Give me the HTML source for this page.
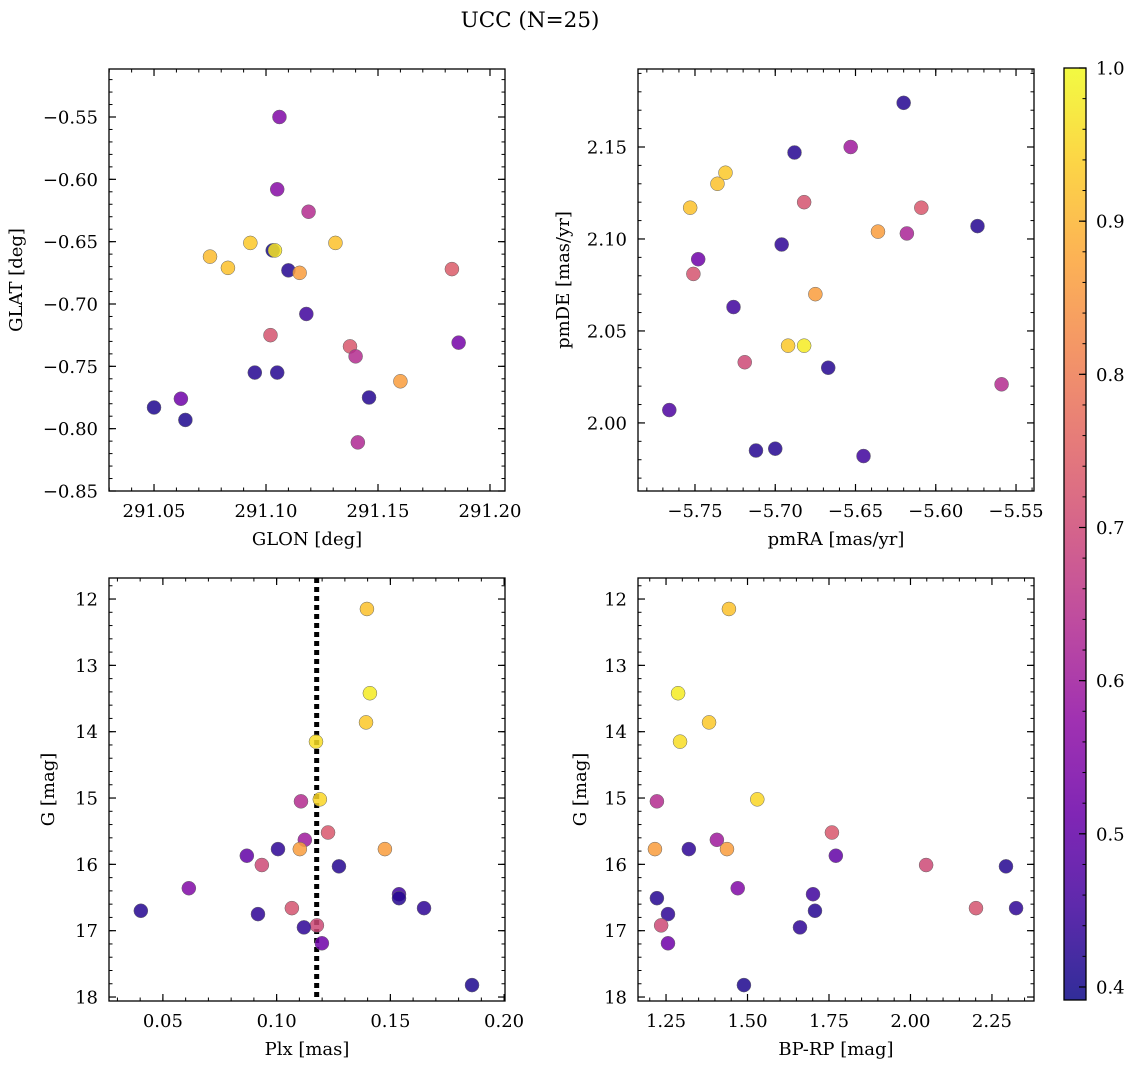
<!DOCTYPE html>
<html><head><meta charset="utf-8">
<style>
html,body{margin:0;padding:0;background:#fff;}
svg{display:block;font-family:"DejaVu Serif","Liberation Serif",serif;}
</style></head>
<body>
<svg id="fig" width="1136" height="1068" viewBox="0 0 1136 1068" xmlns="http://www.w3.org/2000/svg">
<text x="530" y="27" font-size="21.5" text-anchor="middle">UCC (N=25)</text>
</svg>
<script>
// ---- Panel 1: GLON vs GLAT ----
const p1x=[291.106,291.105,291.119,291.093,291.103,291.104,291.131,291.075,291.083,291.110,291.115,291.183,291.118,291.102,291.1375,291.140,291.186,291.095,291.105,291.160,291.146,291.050,291.062,291.064,291.141];
const p1y=[-0.550,-0.608,-0.626,-0.651,-0.657,-0.657,-0.651,-0.662,-0.671,-0.673,-0.675,-0.672,-0.708,-0.725,-0.734,-0.742,-0.731,-0.755,-0.755,-0.762,-0.775,-0.783,-0.776,-0.793,-0.811];
const p1c=[0.55,0.56,0.64,0.93,0.40,0.97,0.92,0.91,0.92,0.42,0.86,0.74,0.45,0.72,0.73,0.64,0.53,0.42,0.42,0.86,0.42,0.41,0.52,0.41,0.63];
// ---- Panel 2: pmRA vs pmDE ----
const p2x=[-5.620,-5.688,-5.653,-5.731,-5.736,-5.753,-5.682,-5.609,-5.636,-5.618,-5.574,-5.696,-5.748,-5.751,-5.675,-5.726,-5.719,-5.692,-5.682,-5.667,-5.559,-5.766,-5.712,-5.700,-5.645];
const p2y=[2.174,2.147,2.150,2.136,2.130,2.117,2.120,2.117,2.104,2.103,2.107,2.097,2.089,2.081,2.070,2.063,2.033,2.042,2.042,2.030,2.021,2.007,1.985,1.986,1.982];
const p2c=[0.42,0.42,0.60,0.93,0.92,0.92,0.72,0.73,0.86,0.62,0.42,0.43,0.52,0.72,0.86,0.45,0.70,0.93,0.98,0.42,0.64,0.47,0.42,0.42,0.45];
// ---- Panel 3: Plx vs G ----
const p3x=[0.1397,0.1410,0.1393,0.1173,0.1190,0.1107,0.1226,0.1124,0.1006,0.1102,0.1476,0.0869,0.0935,0.1274,0.0614,0.1538,0.1538,0.0403,0.1648,0.1067,0.0918,0.1177,0.1120,0.1199,0.1859];
const p3y=[12.15,13.42,13.86,14.15,15.02,15.05,15.52,15.63,15.77,15.77,15.77,15.87,16.01,16.03,16.36,16.45,16.51,16.70,16.66,16.66,16.75,16.92,16.95,17.19,17.82];
const p3c=[0.92,0.98,0.93,0.96,0.95,0.64,0.73,0.60,0.43,0.86,0.86,0.50,0.70,0.42,0.55,0.45,0.42,0.42,0.43,0.72,0.43,0.70,0.43,0.52,0.41];
// ---- Panel 4: BP-RP vs G ----
const p4x=[1.443,1.287,1.382,1.293,1.530,1.222,1.759,1.406,1.320,1.216,1.437,1.771,2.048,2.293,1.470,1.701,1.222,1.707,2.324,2.201,1.256,1.235,1.661,1.256,1.489];
const p4y=p3y;
const p4c=p3c;
const plxLine=[0.1176];
// ---- Axis ticks ----
const t1x=[291.05,291.10,291.15,291.20], t1y=[-0.55,-0.60,-0.65,-0.70,-0.75,-0.80,-0.85];
const t2x=[-5.75,-5.70,-5.65,-5.60,-5.55], t2y=[2.00,2.05,2.10,2.15];
const t3x=[0.05,0.10,0.15,0.20], tGy=[12,13,14,15,16,17,18];
const t4x=[1.25,1.50,1.75,2.00,2.25];
const tCb=[0.4,0.5,0.6,0.7,0.8,0.9,1.0];
const cbMin=0.3915, cbMax=1.0;

const NS="http://www.w3.org/2000/svg";
const FS=18;
const svg=document.getElementById('fig');
function mk(tag,attrs,parent){const e=document.createElementNS(NS,tag);for(const k in attrs)e.setAttribute(k,attrs[k]);(parent||svg).appendChild(e);return e;}
const stops=[[13,8,135],[65,4,157],[106,0,168],[143,13,164],[177,42,144],[204,71,120],[225,100,98],[242,132,75],[252,166,54],[252,206,37],[240,249,33]];
function plasma(t){t=Math.max(0,Math.min(1,t))*10;const i=Math.min(9,Math.floor(t)),f=t-i;const a=stops[i],b=stops[i+1];return 'rgb('+a.map((v,k)=>Math.round(v+(b[k]-v)*f)).join(',')+')';}
function cmap(v){return plasma((v-cbMin)/(cbMax-cbMin));}
function fmt(v,d){const s=v.toFixed(d);return v<0?'\u2212'+s.slice(1):s;}

function panel(cfg){
  const {L,T,W,H,xmin,xmax,ymin,ymax,invert,xt,yt,xd,yd,xminor,yminor,xlab,ylab,ylabX,name}=cfg;
  const g=mk('g',{});
  
  
  const sx=v=>L+(v-xmin)/(xmax-xmin)*W;
  const sy=invert?(v=>T+(v-ymin)/(ymax-ymin)*H):(v=>T+H-(v-ymin)/(ymax-ymin)*H);
  for(let v=Math.ceil(xmin/xminor-1e-6)*xminor;v<=xmax+1e-9;v+=xminor){const x=sx(v);
    mk('line',{x1:x,x2:x,y1:T+H,y2:T+H-3.5,stroke:'#000','stroke-width':1},g);
    mk('line',{x1:x,x2:x,y1:T,y2:T+3.5,stroke:'#000','stroke-width':1},g);}
  for(let v=Math.ceil(Math.min(ymin,ymax)/yminor-1e-6)*yminor;v<=Math.max(ymin,ymax)+1e-9;v+=yminor){const y=sy(v);
    mk('line',{x1:L,x2:L+3.5,y1:y,y2:y,stroke:'#000','stroke-width':1},g);
    mk('line',{x1:L+W,x2:L+W-3.5,y1:y,y2:y,stroke:'#000','stroke-width':1},g);}
  xt.forEach(v=>{const x=sx(v);
    mk('line',{x1:x,x2:x,y1:T+H,y2:T+H-7,stroke:'#000','stroke-width':1.2},g);
    mk('line',{x1:x,x2:x,y1:T,y2:T+7,stroke:'#000','stroke-width':1.2},g);
    const t=mk('text',{x:x,y:T+H+26,'font-size':FS,'text-anchor':'middle'},g);t.textContent=fmt(v,xd);
    
    });
  yt.forEach(v=>{const y=sy(v);
    mk('line',{x1:L,x2:L+7,y1:y,y2:y,stroke:'#000','stroke-width':1.2},g);
    mk('line',{x1:L+W,x2:L+W-7,y1:y,y2:y,stroke:'#000','stroke-width':1.2},g);
    const t=mk('text',{x:L-11,y:y+6.5,'font-size':FS,'text-anchor':'end'},g);t.textContent=fmt(v,yd);
    
    });
  const xl=mk('text',{x:L+W/2,y:T+H+54,'font-size':FS,'text-anchor':'middle'},g);xl.textContent=xlab;
  
  
  const yl=mk('text',{x:ylabX,y:T+H/2,'font-size':FS,'text-anchor':'middle',transform:`rotate(-90 ${ylabX} ${T+H/2})`},g);yl.textContent=ylab;
  
  
  return {g,sx,sy,L,T,W,H};
}
function points(p,xs,ys,cs){
  xs.forEach((xv,i)=>{const c=mk('circle',{cx:p.sx(xv),cy:p.sy(ys[i]),r:7,fill:cmap(cs[i]),'fill-opacity':0.85,stroke:'#666','stroke-width':0.5},p.g);
    
    });
}
function frame(p){const r=mk('rect',{x:p.L,y:p.T,width:p.W,height:p.H,fill:'none',stroke:'#000','stroke-width':1.3},p.g);
  
  }

const P1=panel({L:109,T:69,W:396,H:422,xmin:291.0299,xmax:291.2067,ymin:-0.85,ymax:-0.5115,invert:false,xt:t1x,yt:t1y,xd:2,yd:2,xminor:0.01,yminor:0.01,xlab:'GLON [deg]',ylab:'GLAT [deg]',ylabX:22,name:'glon-glat-panel'});
points(P1,p1x,p1y,p1c);frame(P1);
const P2=panel({L:638,T:69,W:396,H:422,xmin:-5.7855,xmax:-5.5388,ymin:1.963,ymax:2.1924,invert:false,xt:t2x,yt:t2y,xd:2,yd:2,xminor:0.01,yminor:0.01,xlab:'pmRA [mas/yr]',ylab:'pmDE [mas/yr]',ylabX:569,name:'pm-panel'});
points(P2,p2x,p2y,p2c);frame(P2);
const P3=panel({L:109,T:578,W:396,H:423,xmin:0.0263,xmax:0.2004,ymin:11.683,ymax:18.06,invert:true,xt:t3x,yt:tGy,xd:2,yd:0,xminor:0.01,yminor:0.2,xlab:'Plx [mas]',ylab:'G [mag]',ylabX:54,name:'plx-g-panel'});
plxLine.forEach(v=>{const l=mk('line',{x1:P3.sx(v),x2:P3.sx(v),y1:P3.T,y2:P3.T+P3.H,stroke:'#000','stroke-width':5,'stroke-dasharray':'5 4'},P3.g);
  
  });
points(P3,p3x,p3y,p3c);frame(P3);
const P4=panel({L:638,T:578,W:396,H:423,xmin:1.164,xmax:2.379,ymin:11.683,ymax:18.06,invert:true,xt:t4x,yt:tGy,xd:2,yd:0,xminor:0.05,yminor:0.2,xlab:'BP-RP [mag]',ylab:'G [mag]',ylabX:586,name:'cmd-panel'});
points(P4,p4x,p4y,p4c);frame(P4);

// ---- Colorbar ----
const cb=mk('g',{});


const cbL=1064,cbT=68,cbW=22,cbH=932;
const grad=mk('linearGradient',{id:'cbg',x1:0,y1:1,x2:0,y2:0},mk('defs',{}));
for(let i=0;i<=20;i++){mk('stop',{offset:i/20,'stop-color':plasma(i/20),'stop-opacity':0.85},grad);}
mk('rect',{x:cbL,y:cbT,width:cbW,height:cbH,fill:'url(#cbg)'},cb);
const cy=v=>cbT+cbH-(v-cbMin)/(cbMax-cbMin)*cbH;
for(let v=0.4;v<=1.0001;v+=0.02){const y=cy(v);mk('line',{x1:cbL+cbW,x2:cbL+cbW-3.5,y1:y,y2:y,stroke:'#000','stroke-width':1},cb);}
tCb.forEach(v=>{const y=cy(v);mk('line',{x1:cbL+cbW,x2:cbL+cbW-7,y1:y,y2:y,stroke:'#000','stroke-width':1.2},cb);
  const t=mk('text',{x:cbL+cbW+10,y:y+6.5,'font-size':FS},cb);t.textContent=v.toFixed(1);
  
  });
mk('rect',{x:cbL,y:cbT,width:cbW,height:cbH,fill:'none',stroke:'#000','stroke-width':1.3},cb);
</script>
</body></html>
